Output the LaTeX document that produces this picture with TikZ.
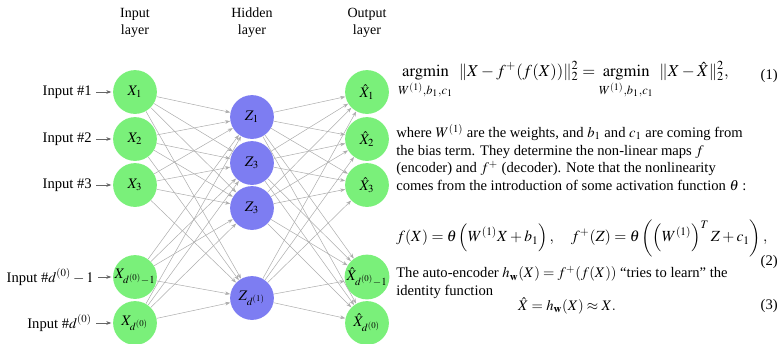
\documentclass[tikz,border=0pt]{standalone}
\usepackage{amsmath}
\usepackage{mathptmx}
\usepackage[no-math]{fontspec}
\setmainfont{Liberation Serif}
\usetikzlibrary{arrows.meta}
\definecolor{nodegreen}{RGB}{122,240,122}
\definecolor{nodeblue}{RGB}{125,125,242}
\tikzset{
  unit/.style={circle, minimum size=30pt, inner sep=0pt, draw=none},
  inunit/.style={unit, fill=nodegreen},
  hidunit/.style={unit, fill=nodeblue},
  wire/.style={draw=black!32, line width=0.35pt, -{Stealth[length=3.5pt,width=2.5pt]}},
  feed/.style={draw=black!60, line width=0.4pt, -{Stealth[length=3.5pt,width=2.5pt]}, shorten <=3pt, shorten >=1pt},
  inlabel/.style={anchor=east, inner sep=0pt},
  head/.style={align=center, font=\fontsize{9.6}{11.6}\selectfont},
}
\begin{document}
\begin{tikzpicture}[x=0.685pt, y=-0.685pt]
\useasboundingbox (0,0) rectangle (782,343);

% layer headings
\node[head] (hin)  at (135,23) {Input\\layer};
\node[head] (hhid) at (252,23) {Hidden\\layer};
\node[head] (hout) at (367,23) {Output\\layer};

% input layer
\node[inunit] (x1) at (135,92)  {$X_1$};
\node[inunit] (x2) at (135,139) {$X_2$};
\node[inunit] (x3) at (135,185) {$X_3$};
\node[inunit] (x4) at (135,277) {$X_{d^{(0)}-1}$};
\node[inunit] (x5) at (135,323) {$X_{d^{(0)}}$};

% hidden layer
\node[hidunit] (z1) at (252,117) {$Z_1$};
\node[hidunit] (z2) at (252,163) {$Z_3$};
\node[hidunit] (z3) at (252,208) {$Z_3$};
\node[hidunit] (z4) at (252,298) {$Z_{d^{(1)}}$};

% output layer
\node[inunit] (y1) at (367,92)  {$\hat X_1$};
\node[inunit] (y2) at (367,139) {$\hat X_2$};
\node[inunit] (y3) at (367,185) {$\hat X_3$};
\node[inunit] (y4) at (367,277) {$\hat X_{d^{(0)}-1}$};
\node[inunit] (y5) at (367,323) {$\hat X_{d^{(0)}}$};

% input labels
\node[inlabel] (l1) at (92,92)  {Input \#1};
\node[inlabel] (l2) at (92,139) {Input \#2};
\node[inlabel] (l3) at (92,185) {Input \#3};
\node[inlabel] (l4) at (94,277) {Input \#$d^{(0)}-1$};
\node[inlabel] (l5) at (92,323) {Input \#$d^{(0)}$};
\foreach \i in {1,...,5} { \draw[feed] (l\i.east) -- (x\i.west); }

% fully connected weights
\foreach \i in {1,...,5} {
  \foreach \j in {1,...,4} {
    \draw[wire] (x\i) -- (z\j);
    \draw[wire] (z\j) -- (y\i);
  }
}

% equations and text
\node[anchor=west, inner sep=0pt, font=\fontsize{11.4}{13}\selectfont] (eq1) at (398,80)
  {$\displaystyle \operatorname*{argmin}_{W^{(1)},b_1,c_1}\ \|X-f^+(f(X))\|_2^2 = \operatorname*{argmin}_{W^{(1)},b_1,c_1}\ \|X-\hat X\|_2^2,$};
\node[anchor=east, inner sep=0pt] (tag1) at (778,76) {(1)};

\node[anchor=north west, align=left, inner sep=0pt] (para) at (396,124)
  {where $W^{(1)}$ are the weights, and $b_1$ and $c_1$ are coming from\\
   the bias term. They determine the non-linear maps $f$\\
   (encoder) and $f^+$ (decoder). Note that the nonlinearity\\
   comes from the introduction of some activation function $\theta$ :};

\node[anchor=west, inner sep=0pt, font=\fontsize{10.6}{13}\selectfont] (eq2) at (396,238)
  {$\displaystyle f(X)=\theta\left(W^{(1)}X+b_1\right),\quad f^+(Z)=\theta\left(\left(W^{(1)}\right)^TZ+c_1\right),$};
\node[anchor=east, inner sep=0pt] (tag2) at (778,262) {(2)};

\node[anchor=north west, align=left, inner sep=0pt] (para2) at (396,266)
  {The auto-encoder $h_{\mathbf w}(X)=f^+(f(X))$ ``tries to learn'' the\\
   identity function};

\node[inner sep=0pt] (eq3) at (567,306) {$\hat X = h_{\mathbf w}(X)\approx X.$};
\node[anchor=east, inner sep=0pt] (tag3) at (778,306) {(3)};
\end{tikzpicture}
\end{document}
